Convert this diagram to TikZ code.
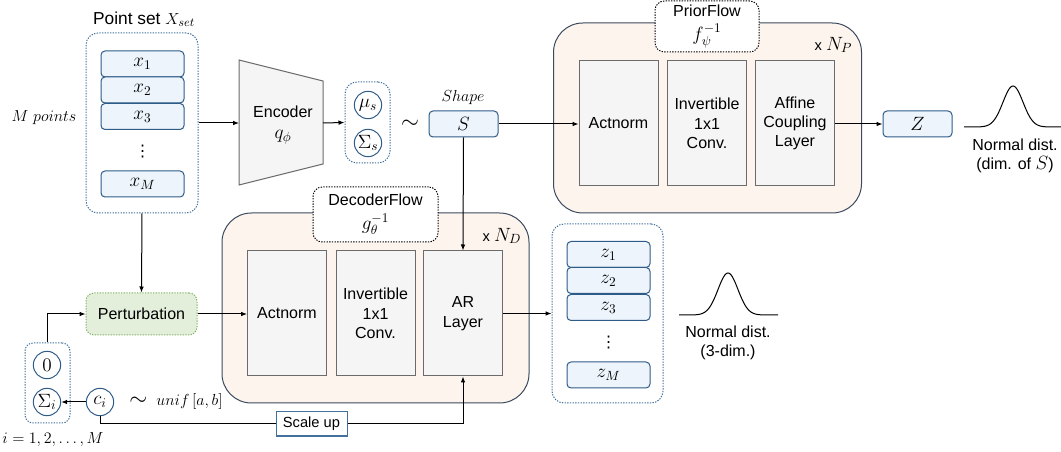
\documentclass[tikz,border=0pt]{standalone}
\usepackage{fontspec}
\setmainfont{Liberation Sans}
\newfontfamily\symfont{DejaVu Sans}
\usetikzlibrary{arrows.meta,positioning}

\definecolor{boxfill}{HTML}{EDF4FB}
\definecolor{boxline}{HTML}{2F5B88}
\definecolor{setline}{HTML}{41719C}
\definecolor{layfill}{HTML}{F5F5F5}
\definecolor{layline}{HTML}{6B6B6B}
\definecolor{flowfill}{HTML}{FDF4EE}
\definecolor{flowline}{HTML}{3B4A5E}
\definecolor{pertfill}{HTML}{E3EFDA}
\definecolor{pertline}{HTML}{82B366}

\newcommand\mathsz{\fontsize{14}{16}\selectfont}

\begin{document}
\begin{tikzpicture}[x=0.75pt,y=-0.75pt,align=center,line width=0.75pt,
   font=\fontsize{12}{14.5}\selectfont,
   >={Latex[length=4.5pt,width=3.5pt]},
   xbox/.style={draw=boxline,fill=boxfill,rounded corners=3pt,minimum width=62.25pt,minimum height=19.5pt,inner sep=0pt,font=\mathsz},
   setbox/.style={draw=setline,dash pattern=on 1pt off 1pt,rounded corners=9pt,inner sep=0pt},
   var/.style={circle,draw=boxline,fill=white,minimum size=20.5pt,inner sep=0pt,font=\mathsz},
   layer/.style={draw=layline,fill=layfill,minimum width=59.25pt,minimum height=93.75pt,inner sep=1pt},
   flow/.style={draw=flowline,fill=flowfill,rounded corners=22pt,minimum width=231pt,minimum height=142.5pt},
   tag/.style={draw=black,dash pattern=on 1pt off 1pt,fill=white,rounded corners=7pt,inner sep=0pt},
   dots/.style={inner sep=0pt,font=\symfont\fontsize{12}{12}\selectfont}]

   \useasboundingbox (0,0) rectangle (1061,452);

   % point set
   \node (title) at (144,19) {\fontsize{13}{15}\selectfont Point set $X_{set}$};
   \node[font=\fontsize{12.5}{15}\selectfont] (mpts) at (44,118) {$M\ points$};
   \node[setbox,minimum width=84pt,minimum height=135pt] (xset) at (142,123) {};
   \node[xbox] (x1) at (142.5,64) {$x_1$};
   \node[xbox] (x2) at (142.5,90) {$x_2$};
   \node[xbox] (x3) at (142.5,116.5) {$x_3$};
   \node[dots] (xdots) at (142.5,152) {⋮};
   \node[xbox] (xm) at (142.5,184) {$x_M$};

   % encoder
   \draw[draw=layline,fill=layfill] (239,60) -- (323,81) -- (323,164) -- (239,185) -- cycle;
   \coordinate (encin) at (239,123);
   \coordinate (encout) at (323,123);
   \node (enc) at (283,125) {Encoder\\[1pt]{\mathsz$q_\phi$}};

   \node[setbox,minimum width=33.75pt,minimum height=60.75pt] (ms) at (367.5,122.5) {};
   \node[var] (mu) at (368,105) {$\mu_s$};
   \node[var] (sig) at (368,143) {$\Sigma_s$};
   \node (tilde) at (410,124) {\LARGE$\sim$};

   \node[font=\fontsize{12.5}{15}\selectfont] (shape) at (463,98) {$Shape$};
   \node[xbox,minimum width=51.75pt] (s) at (463.5,124) {$S$};

   % prior flow
   \node[flow] (prior) at (707.5,118) {};
   \node[tag,minimum width=78pt,minimum height=38.25pt] (ptag) at (707,26.5) {PriorFlow\\[3.5pt]{\mathsz$f_\psi^{-1}$}};
   \node[font=\fontsize{11}{13}\selectfont] (np) at (833.5,45) {x {\mathsz$N_P$}};
   \node[layer] (pa) at (618.5,123.5) {Actnorm};
   \node[layer] (pb) at (707,123.5) {Invertible\\1x1\\Conv.};
   \node[layer] (pc) at (795,123.5) {Affine\\Coupling\\Layer};
   \node[xbox,minimum width=51.75pt] (z) at (917.5,124) {$Z$};

   \draw (964,127) plot[domain=-49:48,samples=90] ({1013+\x},{127-41*exp(-(\x/10)*(\x/10)/2)});
   \node (nd1) at (1015,156) {Normal dist.\\(dim. of {\mathsz$S$})};

   % decoder flow
   \node[flow,minimum width=230.25pt] (dec) at (375.5,308) {};
   \node[tag,minimum width=93.75pt,minimum height=41.25pt] (dtag) at (375.5,214.5) {DecoderFlow\\[3.5pt]{\mathsz$g_\theta^{-1}$}};
   \node[font=\fontsize{11}{13}\selectfont] (nd) at (502,236) {x {\mathsz$N_D$}};
   \node[layer] (da) at (287,313.5) {Actnorm};
   \node[layer] (db) at (375.5,313.5) {Invertible\\1x1\\Conv.};
   \node[layer] (ar) at (463,313.5) {AR\\Layer};

   \node[setbox,minimum width=83.25pt,minimum height=134.25pt] (zset) at (607.5,313.5) {};
   \node[xbox] (z1) at (608.5,254.5) {$z_1$};
   \node[xbox] (z2) at (608.5,280.5) {$z_2$};
   \node[xbox] (z3) at (608.5,307.5) {$z_3$};
   \node[dots] (zdots) at (608.5,343) {⋮};
   \node[xbox] (zm) at (608.5,375) {$z_M$};

   \draw (679,315) plot[domain=-49:50,samples=90] ({728+\x},{315-42*exp(-(\x/10)*(\x/10)/2)});
   \node (nd2) at (728,343) {Normal dist.\\(3-dim.)};

   % perturbation
   \node[draw=pertline,fill=pertfill,dash pattern=on 1pt off 1pt,rounded corners=6pt,minimum width=83.25pt,minimum height=31.5pt] (pert) at (141.5,314) {Perturbation};
   \node[setbox,minimum width=33.75pt,minimum height=60pt,rounded corners=6pt] (noise) at (47.5,383) {};
   \node[var] (zero) at (47,365) {$0$};
   \node[var] (sigi) at (47,402) {$\Sigma_i$};
   \node[var] (ci) at (100,402) {$c_i$};
   \node[font=\fontsize{12.5}{15}\selectfont] (unif) at (176,402) {{\LARGE$\sim$}\ \ $unif\,[a,b]$};
   \node[font=\fontsize{11.5}{14}\selectfont] (idx) at (53,440) {$i=1,2,\ldots,M$};
   \node[draw=setline,fill=white,font=\fontsize{11}{13}\selectfont,minimum width=53.25pt,minimum height=18pt,inner sep=0pt] (scale) at (311.5,424) {Scale up};

   % connectors
   \draw[->] (xset.east) -- (encin);
   \draw[->] (encout) -- (ms.west);
   \draw[->] (s.east) -- (pa.west |- s.east);
   \draw[->] (pc.east |- z.west) -- (z.west);
   \draw[->] (s.south) -- (ar.north);
   \draw[->] (xset.south) -- (pert.north);
   \draw[->] (pert.east) -- (da.west |- pert.east);
   \draw[->] (ar.east) -- (zset.west |- ar.east);
   \draw[->] (noise.north) |- (pert.west);
   \draw[->] (ci.west) -- (sigi.east);
   \draw (ci.south) |- (scale.west);
   \draw[->] (scale.east) -| (ar.south);

\end{tikzpicture}
\end{document}
